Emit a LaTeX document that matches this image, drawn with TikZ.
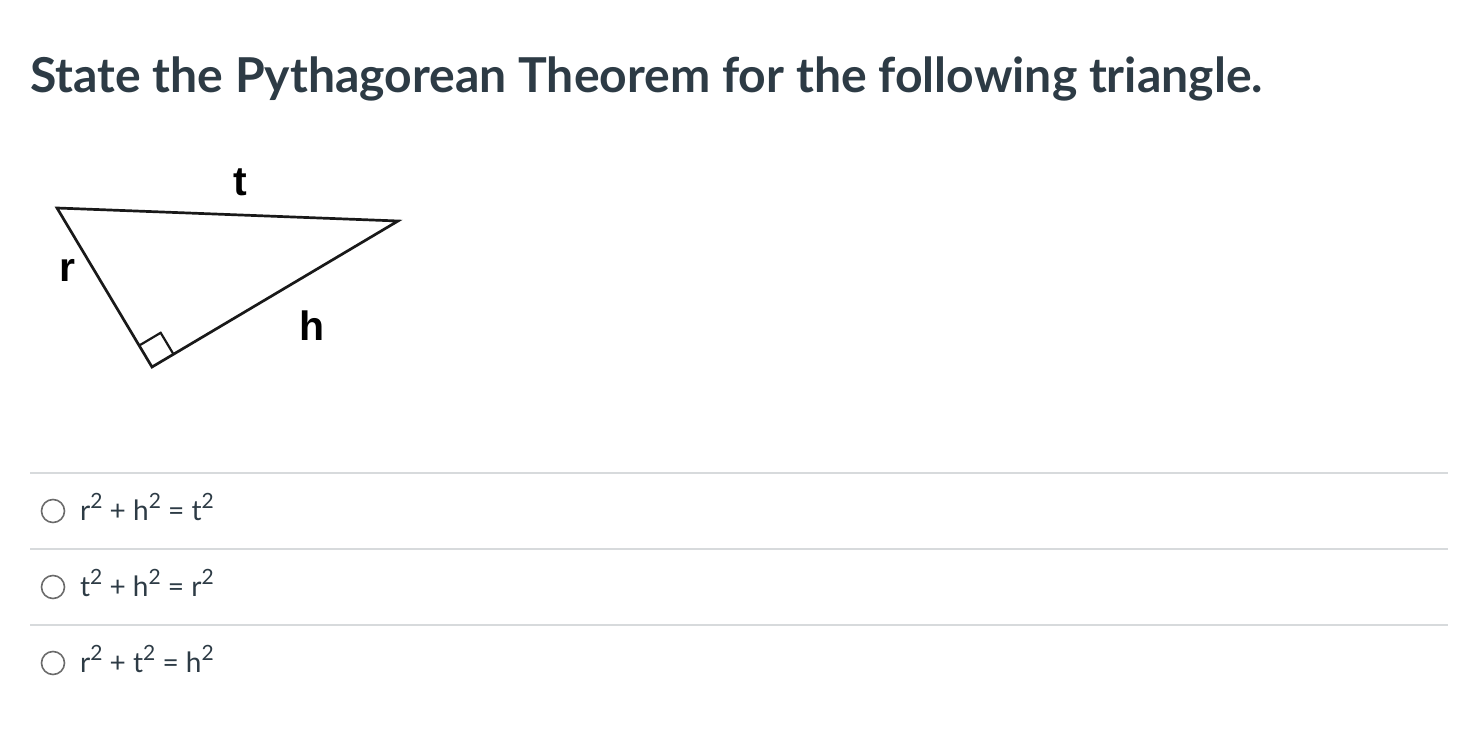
\documentclass[tikz,border=0pt]{standalone}
\usepackage{fontspec}
\usetikzlibrary{calc}
\setmainfont{Lato}
\newfontfamily\arialfont{Liberation Sans}
\definecolor{ink}{HTML}{2D3B45}
\definecolor{rule}{HTML}{D7DADC}
\definecolor{radio}{HTML}{6B6B6B}
\newcommand{\sq}{\raisebox{0.42em}{\fontsize{21}{21}\selectfont 2}}
\tikzset{
  answer/.style={anchor=base west, inner sep=0pt, text=ink, font=\fontsize{28}{30}\selectfont},
  radiobtn/.style={circle, draw=radio, line width=1.6pt, minimum size=23pt, inner sep=0pt},
  sep/.style={draw=rule, line width=1.5pt},
  side/.style={draw=black!90, line width=2.7pt, line join=miter},
  lbl/.style={inner sep=0pt, font=\arialfont\bfseries\fontsize{41}{41}\selectfont}
}
\begin{document}
\begin{tikzpicture}[x=1pt,y=-1pt]
\useasboundingbox (0,0) rectangle (1478,730);
\node[anchor=base west, inner sep=0pt, text=ink, font=\bfseries\fontsize{48.1}{55}\selectfont] (title) at (30,93) {State the Pythagorean Theorem for the following triangle.};
% triangle
\coordinate (A) at (57,208);
\coordinate (B) at (398,221);
\coordinate (C) at (152,367);
\draw[side] (A) -- (B) -- (C) -- cycle;
\coordinate (P) at ($(C)!25pt!(A)$);
\coordinate (Q) at ($(C)!25pt!(B)$);
\coordinate (R) at ($(P)+(Q)-(C)$);
\draw[black!90, line width=2.2pt] (P) -- (R) -- (Q);
\node[lbl, anchor=base] (t) at (240,196) {t};
\node[lbl, anchor=base] (r) at (67,281) {r};
\node[lbl, anchor=base] (h) at (312,340) {h};
% separators
\coordinate (s1l) at (30,473); \coordinate (s1r) at (1448,473);
\coordinate (s2l) at (30,549); \coordinate (s2r) at (1448,549);
\coordinate (s3l) at (30,625); \coordinate (s3r) at (1448,625);
\draw[sep] (s1l) -- (s1r);
\draw[sep] (s2l) -- (s2r);
\draw[sep] (s3l) -- (s3r);
% answers
\node[radiobtn] (c1) at (53,511) {};
\node[radiobtn] (c2) at (53,587) {};
\node[radiobtn] (c3) at (53,663) {};
\node[answer] (a1) at (80,520) {r\sq{} + h\sq{} = t\sq};
\node[answer] (a2) at (80,596) {t\sq{} + h\sq{} = r\sq};
\node[answer] (a3) at (80,672) {r\sq{} + t\sq{} = h\sq};
\end{tikzpicture}
\end{document}
